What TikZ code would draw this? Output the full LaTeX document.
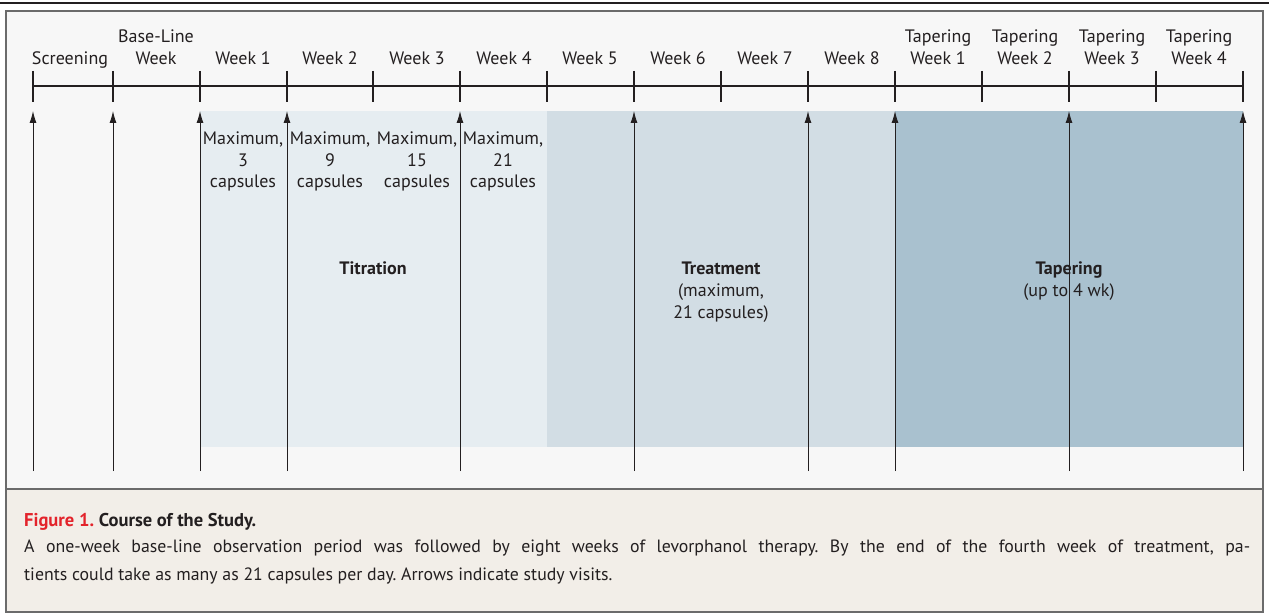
\documentclass[tikz,border=0pt]{standalone}
\usepackage{fontspec}
\setmainfont{PT Sans}
\usetikzlibrary{arrows.meta}

\definecolor{panelbg}{HTML}{F7F7F7}
\definecolor{capbg}{HTML}{F2EEE8}
\definecolor{frame}{HTML}{6B6B6B}
\definecolor{ink}{HTML}{231F20}
\definecolor{titr}{HTML}{E6EDF1}
\definecolor{treat}{HTML}{D2DDE4}
\definecolor{taper}{HTML}{A9C1CF}
\definecolor{figred}{HTML}{E3232B}

\begin{document}
\frenchspacing
\begin{tikzpicture}[x=1pt, y=-1pt,
    lbl/.style={align=center, font=\fontsize{18}{22}\selectfont, text=ink, inner sep=0pt, anchor=base},
    dose/.style={align=center, font=\fontsize{18}{21.5}\selectfont, text=ink, inner sep=0pt, anchor=base},
    phase/.style={align=center, font=\fontsize{18}{22}\selectfont, text=ink, inner sep=0pt, anchor=base},
    tickmark/.style={draw=ink, line width=2.2pt},
    visit/.style={draw=ink, line width=0.9pt, -{Latex[length=12pt, width=7pt]}}
  ]
    \useasboundingbox (0,0) rectangle (1269,615);
    \fill[white] (0,0) rectangle (1269,615);
    \draw[ink, line width=1.5pt] (0,3) -- (1269,3);

    % panel and caption box
    \fill[panelbg] (6,11) rectangle (1263,489);
    \fill[capbg] (6,489) rectangle (1263,612);
    \fill[titr] (200,111) rectangle (547,447);
    \fill[treat] (547,111) rectangle (895,447);
    \fill[taper] (895,111) rectangle (1243,447);
    \draw[frame, line width=2pt] (6,11) rectangle (1263,612);
    \draw[frame, line width=2pt] (6,489) -- (1263,489);

    % time line
    \draw[ink, line width=2.2pt] (33,86) -- (1243,86);
    \foreach \x in {33,113,200,287,373,460,547,634,721,808,895,982,1069,1156,1243}
      \draw[tickmark] (\x,71) -- (\x,102);

    \node[lbl] (scr) at (70,64.5) {Screening};
    \node[lbl] (base) at (156,64.5) {Base-Line\\Week};
    \foreach \n [count=\i] in {243,330,417,504,590,678,765,852}
      \node[lbl] (w\i) at (\n,64.5) {Week \i};
    \foreach \n [count=\i] in {938,1025,1112,1199}
      \node[lbl] (t\i) at (\n,64.5) {Tapering\\Week \i};

    % visits
    \foreach \x [count=\i] in {33,113,200,287,460,634,808,895,1069,1243} {
      \coordinate (vb\i) at (\x,471);
      \coordinate (vt\i) at (\x,111);
      \draw[visit] (vb\i) -- (vt\i);
    }

    \node[dose] (d1) at (243,187.5) {Maximum,\\3\\capsules};
    \node[dose] (d2) at (330,187.5) {Maximum,\\9\\capsules};
    \node[dose] (d3) at (417,187.5) {Maximum,\\15\\capsules};
    \node[dose] (d4) at (503,187.5) {Maximum,\\21\\capsules};

    \node[phase] (titration) at (373,274.5) {\textbf{Titration}};
    \node[phase] (treatment) at (721,318.5) {\textbf{Treatment}\\(maximum,\\21 capsules)};
    \node[phase] (tapering) at (1069,296.5) {\textbf{Tapering}\\(up to 4 wk)};

    % caption
    \node[anchor=base west, inner sep=0pt, font=\fontsize{18.5}{20}\selectfont, text=ink] (figttl) at (24,526)
      {\textcolor{figred}{\textbf{Figure 1.}} \textbf{Course of the Study.}};
    \node[anchor=north west, inner sep=0pt, text width=1226pt, align=justify,
          font=\fontsize{17.8}{28}\selectfont, text=ink] (figtxt) at (24,540)
      {A one-week base-line observation period was followed by eight weeks of levorphanol therapy. By the end of the fourth week of treatment, pa-\linebreak tients could take as many as 21 capsules per day. Arrows indicate study visits.};
  \end{tikzpicture}
\end{document}
